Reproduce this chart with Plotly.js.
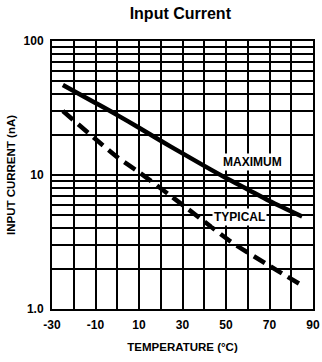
<!DOCTYPE html>
<html>
<head>
<meta charset="utf-8">
<script src="https://cdn.plot.ly/plotly-3.0.1.min.js"></script>
<style>html,body{margin:0;padding:0;background:#fff;}#chart{width:322px;height:362px;}</style>
</head>
<body>
<div id="chart"></div>
<script>
// Temperature (°C)
const maxTemp = [-25, -10, 0, 10, 20, 30, 40, 50, 60, 70, 85];
// Maximum input current (nA)
const maxCurrent = [47, 34.5, 28, 22.5, 18, 14.5, 11.7, 9.5, 7.8, 6.4, 4.9];
const typTemp = [-25, -8, 0, 10, 25, 40, 52, 70, 85];
// Typical input current (nA)
const typCurrent = [30, 17.4, 13.6, 10.5, 6.9, 4.5, 3.2, 2.1, 1.5];

const xTickVals = [-30, -20, -10, 0, 10, 20, 30, 40, 50, 60, 70, 80, 90];
const xTickText = ['-30', '', '-10', '', '10', '', '30', '', '50', '', '70', '', '90'];
const yTickVals = [1, 2, 3, 4, 5, 6, 7, 8, 9, 10, 20, 30, 40, 50, 60, 70, 80, 90, 100];
const yTickText = ['1.0', '', '', '', '', '', '', '', '', '10', '', '', '', '', '', '', '', '', '100'];

const seriesLabels = ['MAXIMUM', 'TYPICAL'];
const labelX = [62, 56];
const labelY = [12.4, 4.85];

const font = 'Liberation Sans, Arial, Helvetica, sans-serif';

const data = [
  {x: maxTemp, y: maxCurrent, type: 'scatter', mode: 'lines',
   line: {color: '#000', width: 4.5, shape: 'spline', smoothing: 0.8}, name: 'MAXIMUM', showlegend: false},
  {x: typTemp, y: typCurrent, type: 'scatter', mode: 'lines',
   line: {color: '#000', width: 4.5, dash: '13px,7px', shape: 'spline', smoothing: 0.8}, name: 'TYPICAL', showlegend: false}
];

const layout = {
  width: 322, height: 362,
  margin: {l: 52, r: 9, t: 41, b: 53},
  paper_bgcolor: '#fff', plot_bgcolor: '#fff',
  title: {text: 'Input Current', font: {family: font, size: 16, color: '#000', weight: 'bold'},
          x: 0.56, xanchor: 'center', y: 0.962, yanchor: 'middle'},
  xaxis: {
    range: [-30, 90], tickvals: xTickVals, ticktext: xTickText,
    showgrid: true, gridcolor: '#000', gridwidth: 2,
    zeroline: false, showline: true, linecolor: '#000', linewidth: 2, mirror: true,
    ticks: '', ticklabelstandoff: 4,
    tickfont: {family: font, size: 12, color: '#000', weight: 'bold'},
    title: {text: 'TEMPERATURE (°C)', font: {family: font, size: 11.5, color: '#000', weight: 'bold'}, standoff: 12}
  },
  yaxis: {
    type: 'log', range: [0, 2], tickvals: yTickVals, ticktext: yTickText,
    showgrid: true, gridcolor: '#000', gridwidth: 2,
    zeroline: false, showline: true, linecolor: '#000', linewidth: 2, mirror: true,
    ticks: '', ticklabelstandoff: 4,
    tickfont: {family: font, size: 12, color: '#000', weight: 'bold'},
    title: {text: 'INPUT CURRENT (nA)', font: {family: font, size: 11.5, color: '#000', weight: 'bold'}, standoff: 6}
  },
  annotations: seriesLabels.map((t, i) => ({
    x: labelX[i], y: Math.log10(labelY[i]), xref: 'x', yref: 'y', text: t, showarrow: false,
    font: {family: font, size: 12, color: '#000', weight: 'bold'},
    bgcolor: '#fff', borderpad: 1
  }))
};

Plotly.newPlot('chart', data, layout, {displayModeBar: false, staticPlot: true});
</script>
</body>
</html>
